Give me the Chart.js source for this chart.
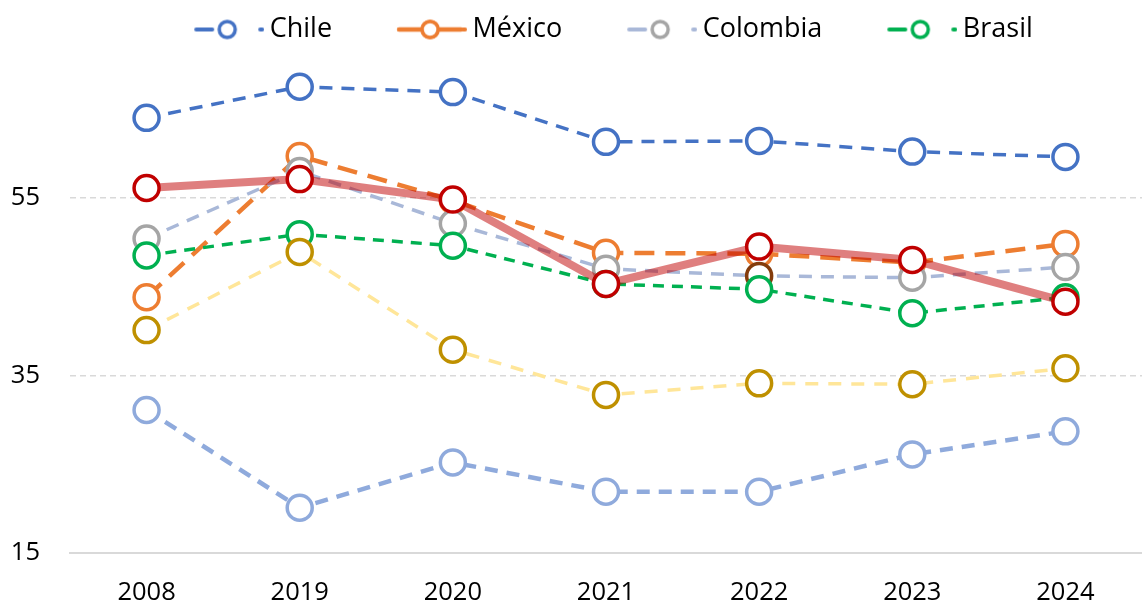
<!DOCTYPE html>
<html>
<head>
<meta charset="utf-8">
<script src="https://cdn.jsdelivr.net/npm/chart.js@4.4.1/dist/chart.umd.min.js"></script>
<style>
    html, body { margin: 0; padding: 0; background: #fff; overflow: hidden; }
    #myChart { display: block; }
</style>
</head>
<body>
<canvas id="myChart" width="1142" height="606"></canvas>
<script>
// Dades llegides del gràfic
const anys = ['2008', '2019', '2020', '2021', '2022', '2023', '2024'];
const chile = [64.0, 67.5, 66.9, 61.3, 61.4, 60.2, 59.6];
const mexico = [43.8, 59.7, 54.7, 48.8, 48.7, 47.7, 49.8];
const colombia = [50.4, 58.0, 52.1, 47.0, 46.2, 46.0, 47.2];
const brasil = [48.5, 50.9, 49.6, 45.3, 44.7, 42.0, 43.8];
const serieGroga = [40.1, 48.9, 37.9, 32.8, 34.1, 34.0, 35.8];
const serieBlava = [31.1, 20.1, 25.2, 21.9, 21.9, 26.1, 28.7];
const serieVermella = [56.1, 57.1, 54.8, 45.3, 49.5, 48.0, 43.3];
const yTicks = [15, 35, 55];

const fontEixos = { family: "'Segoe UI', 'Open Sans', sans-serif", size: 25.5 };
const fontLlegenda = { family: "'Segoe UI', 'Open Sans', sans-serif", size: 27 };

// mostra de la llegenda: tros de línia, cercle i un puntet
const marge = 55;
const mostra = (colorLinia, colorMarca) => {
    const c = document.createElement('canvas');
    c.width = marge + 62 + 16;
    c.height = 28;
    const ctx = c.getContext('2d');
    const s = marge + 8;
    const y = 14;
    ctx.strokeStyle = colorLinia;
    ctx.lineWidth = 4;
    ctx.lineCap = 'round';
    ctx.beginPath();
    ctx.moveTo(s + 2, y);
    ctx.lineTo(s + 18, y);
    ctx.stroke();
    ctx.beginPath();
    ctx.moveTo(s + 66, y);
    ctx.lineTo(s + 68, y);
    ctx.stroke();
    ctx.beginPath();
    ctx.arc(s + 33, y, 8, 0, Math.PI * 2);
    ctx.fillStyle = '#fff';
    ctx.fill();
    ctx.strokeStyle = colorMarca;
    ctx.lineWidth = 3.5;
    ctx.stroke();
    return c;
};

// a Mèxic la línia es veu sencera a la llegenda
const mostraMexic = () => {
    const c = mostra('#ED7D31', '#ED7D31');
    const ctx = c.getContext('2d');
    const s = marge + 8;
    ctx.strokeStyle = '#ED7D31';
    ctx.lineWidth = 4.5;
    ctx.beginPath();
    ctx.moveTo(s + 2, 14);
    ctx.lineTo(s + 25, 14);
    ctx.moveTo(s + 41, 14);
    ctx.lineTo(s + 64, 14);
    ctx.stroke();
    ctx.beginPath();
    ctx.arc(s + 33, 14, 8, 0, Math.PI * 2);
    ctx.fillStyle = '#fff';
    ctx.fill();
    ctx.lineWidth = 3.5;
    ctx.stroke();
    return c;
};

const mostres = [
    mostra('#4472C4', '#4472C4'),
    mostraMexic(),
    mostra('#A9B8D8', '#A5A5A5'),
    mostra('#00B050', '#00B050')
];

const serie = (label, data, colorLinia, colorMarca, gruix, dash, ordre) => ({
    label: label,
    data: data,
    borderColor: colorLinia,
    borderWidth: gruix,
    borderDash: dash,
    pointBorderColor: colorMarca,
    pointBackgroundColor: '#fff',
    pointBorderWidth: 3.5,
    pointRadius: 12.5,
    pointHoverRadius: 12.5,
    fill: false,
    tension: 0,
    clip: false,
    order: ordre
});

const colorsColombia = anys.map((a) => a === '2022' ? '#843C0C' : '#A5A5A5');

const datasets = [
    serie('Chile', chile, '#4472C4', '#4472C4', 3.5, [13, 9], 7),
    serie('México', mexico, '#ED7D31', '#ED7D31', 4.5, [20, 11], 6),
    serie('Colombia', colombia, '#A9B8D8', colorsColombia, 3.5, [13, 9], 5),
    serie('Brasil', brasil, '#00B050', '#00B050', 3.5, [11, 8], 4),
    serie('Serie 5', serieGroga, '#FFE699', '#BF9000', 3.5, [13, 10], 3),
    serie('Serie 6', serieBlava, '#8FAADC', '#8FAADC', 4.5, [13, 9], 2),
    serie('Serie 7', serieVermella, 'rgba(192, 0, 0, 0.5)', '#C00000', 8, [], 1)
];

// desplacem una mica la llegenda cap a la dreta
const moureLlegenda = {
    id: 'moureLlegenda',
    afterLayout: (chart) => {
        if (chart.legend) {
            chart.legend.left += 15;
            chart.legend.right += 15;
        }
    }
};

const ctx = document.getElementById('myChart').getContext('2d');
const chart = new Chart(ctx, {
    type: 'line',
    data: { labels: anys, datasets: datasets },
    plugins: [moureLlegenda],
    options: {
        responsive: false,
        animation: false,
        devicePixelRatio: 1,
        layout: { autoPadding: false, padding: { left: 0, top: 6, right: 0, bottom: 0 } },
        plugins: {
            tooltip: { enabled: false },
            legend: {
                position: 'top',
                reverse: true,
                labels: {
                    usePointStyle: true,
                    pointStyleWidth: marge + 62,
                    padding: 10,
                    color: '#000',
                    font: fontLlegenda,
                    filter: (item) => item.datasetIndex < 4,
                    generateLabels: (chart) => {
                        const items = Chart.defaults.plugins.legend.labels.generateLabels(chart);
                        return items.map((it) => ({ ...it, pointStyle: mostres[it.datasetIndex] || it.pointStyle }));
                    }
                }
            }
        },
        scales: {
            x: {
                offset: true,
                grid: { display: false, drawTicks: false },
                border: { display: true, color: '#D9D9D9', width: 2 },
                ticks: { padding: 24, color: '#000', font: fontEixos },
                afterFit: (axis) => {
                    axis.height = 53;
                    axis.paddingLeft = 0;
                    axis.paddingRight = 0;
                }
            },
            y: {
                min: 15,
                max: 71.3,
                afterBuildTicks: (axis) => {
                    axis.ticks = yTicks.map((v) => ({ value: v }));
                },
                afterFit: (axis) => {
                    axis.width = 70;
                },
                grid: {
                    drawTicks: false,
                    lineWidth: 1.5,
                    color: (c) => (c.tick && c.tick.value === 15) ? 'rgba(0,0,0,0)' : '#D9D9D9'
                },
                border: { display: false, dash: [6, 4] },
                ticks: { padding: 30, color: '#000', font: fontEixos }
            }
        }
    }
});
</script>
</body>
</html>
